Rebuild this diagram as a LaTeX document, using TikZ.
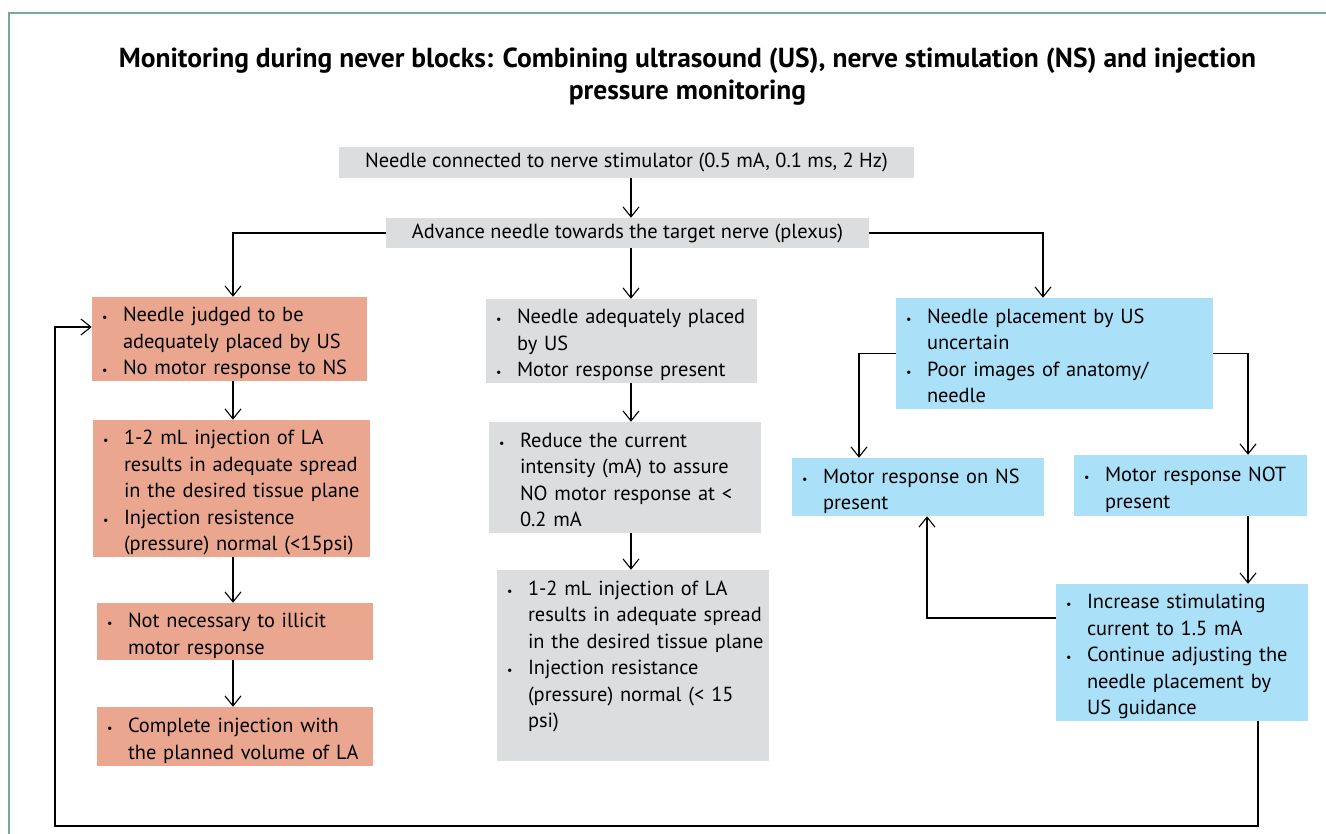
\documentclass[tikz,border=0pt]{standalone}
\usepackage{fontspec}
\setmainfont{PT Sans}
\usepackage{xcolor}
\usetikzlibrary{arrows.meta}

\definecolor{salmon}{HTML}{EAA68F}
\definecolor{lightgrey}{HTML}{DCDDDE}
\definecolor{skyblue}{HTML}{ABE0F9}
\definecolor{frameteal}{HTML}{74A99C}

% bullet cell and bullet list (optional arg raises the text inside its box)
\newcommand{\blt}{\makebox[21pt][l]{\fontsize{12}{12}\selectfont\textbullet}}
\newcommand{\blist}[2][-4pt]{\noindent\raisebox{#1}[\height][\depth]{\begin{tabular}{@{}l@{}l@{}}#2\end{tabular}}}

\begin{document}
\begin{tikzpicture}[
    x=1pt, y=-1pt,
    font=\fontsize{20.4}{26.5}\selectfont,
    >={Straight Barb[length=10pt,width=16pt]},
    link/.style={->, line width=1.1pt},
    plain/.style={fill=lightgrey, inner sep=0pt},
    salmonbox/.style={fill=salmon, text width=#1, inner xsep=10pt, inner ysep=2pt, align=left},
    greybox/.style={fill=lightgrey, text width=#1, inner xsep=10pt, inner ysep=2pt, align=left},
    bluebox/.style={fill=skyblue, text width=#1, inner xsep=10pt, inner ysep=2pt, align=left}
]
    \useasboundingbox (0,0) rectangle (1326,834);
    \draw[frameteal, line width=1.5pt] (1326,13) -| (9,834);

    % Title
    \node[font=\fontsize{27.5}{32}\selectfont\bfseries, align=center] (title) at (687.5,77)
        {Monitoring during never blocks: Combining ultrasound (US), nerve stimulation (NS) and injection\\
        pressure monitoring};

    % Top
    \node[plain, minimum width=575pt, minimum height=31pt] (conn) at (626.5,162.5)
        {Needle connected to nerve stimulator (0.5 mA, 0.1 ms, 2 Hz)};
    \node[plain, minimum width=483pt, minimum height=30pt] (adv) at (627.5,233)
        {Advance needle towards the target nerve (plexus)};

    % Left column
    \node[salmonbox=255pt, minimum height=84pt] (nomotor) at (229.5,339)
        {\blist{\blt & Needle judged to be\\ & adequately placed by US\\
                \blt & No motor response to NS}};
    \node[salmonbox=257pt, minimum height=137pt] (inj1) at (231.5,488.5)
        {\blist{\blt & 1-2 mL injection of LA\\ & results in adequate spread\\ & in the desired tissue plane\\
                \blt & Injection resistence\\ & (pressure) normal (<15psi)}};
    \node[salmonbox=256pt, minimum height=57pt] (notnec) at (235,631.5)
        {\blist{\blt & Not necessary to illicit\\ & motor response}};
    \node[salmonbox=256pt, minimum height=59pt] (complete) at (235,736.5)
        {\blist{\blt & Complete injection with\\ & the planned volume of LA}};

    % Middle column
    \node[greybox=251pt, minimum height=84pt] (motor) at (621.5,341)
        {\blist{\blt & Needle adequately placed\\ & by US\\
                \blt & Motor response present}};
    \node[greybox=252pt, minimum height=111pt] (reduce) at (625,477.5)
        {\blist{\blt & Reduce the current\\ & intensity (mA) to assure\\ & NO motor response at <\\ & 0.2 mA}};
    \node[greybox=252pt, minimum height=191pt] (inj2) at (633,665.5)
        {\blist[9.5pt]{\blt & 1-2 mL injection of LA\\ & results in adequate spread\\ & in the desired tissue plane\\
                \blt & Injection resistance\\ & (pressure) normal (< 15\\ & psi)}};

    % Right column
    \node[bluebox=297pt, minimum height=111pt] (uncertain) at (1054.5,353.5)
        {\blist{\blt & Needle placement by US\\ & uncertain\\
                \blt & Poor images of anatomy/\\ & needle}};
    \node[bluebox=232pt, minimum height=58pt] (nsyes) at (918,487)
        {\blist{\blt & Motor response on NS\\ & present}};
    \node[bluebox=213pt, minimum height=61pt] (nsno) at (1190.5,485.5)
        {\blist{\blt & Motor response NOT\\ & present}};
    \node[bluebox=232pt, minimum height=137pt] (increase) at (1182,652.5)
        {\blist{\blt & Increase stimulating\\ & current to 1.5 mA\\
                \blt & Continue adjusting the\\ & needle placement by\\ & US guidance}};

    % guide lines for the connectors
    \coordinate (lx) at (233,0);
    \coordinate (cx) at (631,0);
    \coordinate (rx) at (1043,0);
    \coordinate (yesx) at (859,0);
    \coordinate (nox) at (1248,0);
    \coordinate (backx) at (927,0);
    \coordinate (backy) at (0,618);
    \coordinate (loopx) at (1258,0);
    \coordinate (loop) at (55,826);
    \coordinate (loopy) at (0,327);

    % Arrows
    \draw[link] (conn.south -| cx) -- (adv.north -| cx);
    \draw[link] (adv.west) -| (nomotor.north -| lx);
    \draw[link] (adv.south -| cx) -- (motor.north -| cx);
    \draw[link] (adv.east) -| (uncertain.north -| rx);

    \draw[link] (nomotor.south -| lx) -- (inj1.north -| lx);
    \draw[link] (inj1.south -| lx) -- (notnec.north -| lx);
    \draw[link] (notnec.south -| lx) -- (complete.north -| lx);

    \draw[link] (motor.south -| cx) -- (reduce.north -| cx);
    \draw[link] (reduce.south -| cx) -- (inj2.north -| cx);

    \draw[link] (uncertain.west) -| (nsyes.north -| yesx);
    \draw[link] (uncertain.east) -| (nsno.north -| nox);
    \draw[link] (nsno.south -| nox) -- (increase.north -| nox);
    \draw[link] (increase.west |- backy) -| (nsyes.south -| backx);
    \draw[link] (increase.south -| loopx) |- (loop) |- (nomotor.west |- loopy);
\end{tikzpicture}
\end{document}
